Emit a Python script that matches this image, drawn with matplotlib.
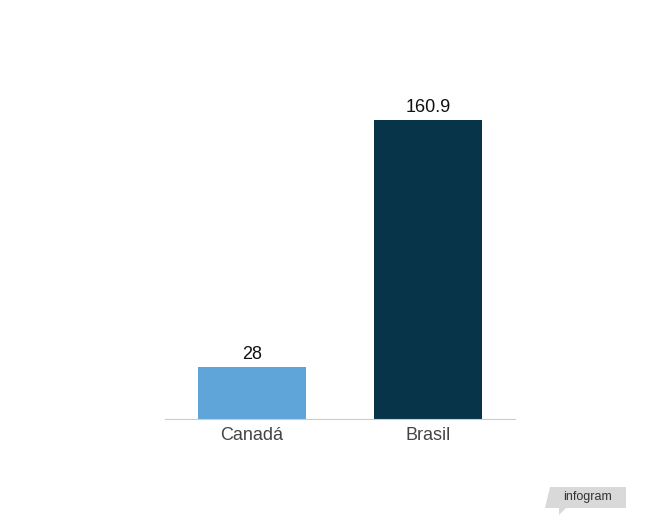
import matplotlib
matplotlib.use("Agg")
import matplotlib.pyplot as plt
from matplotlib.patches import Polygon

categories = ["Canadá", "Brasil"]
values = [28, 160.9]
labels = ["28", "160.9"]
colors = ["#5fa5d9", "#08344a"]

plt.rcParams['font.family'] = ['Liberation Sans', 'DejaVu Sans']
fig = plt.figure(figsize=(6.56, 5.31), dpi=100)
ax = fig.add_axes([165/656, (531-419)/531, 350/656, 319/531])
x = list(range(len(categories)))
ax.bar(x, values, width=108/176, color=colors)
for xi, v, l in zip(x, values, labels):
    ax.text(xi, v + 2, l, ha='center', va='bottom', fontsize=13, color='#111111')
ax.set_xlim(-87/176, 1 + 87/176)
ax.set_ylim(0, 160.9 * 319 / 299)
ax.set_xticks(x)
ax.set_xticklabels(categories, fontsize=13, color='#444444')
ax.tick_params(axis='x', length=0, pad=6)
ax.set_yticks([])
for s in ['top', 'right', 'left']:
    ax.spines[s].set_visible(False)
ax.spines['bottom'].set_color('#cccccc')

# infogram badge
def px(xp, yp):
    return (xp / 656, 1 - yp / 531)
poly = Polygon([px(550, 487), px(626, 487), px(626, 508), px(566, 508), px(559, 515), px(559, 508), px(545, 508)],
               closed=True, transform=fig.transFigure, facecolor='#d9d9d9', edgecolor='none')
fig.patches.append(poly)
fig.text(588/656, 1 - 497/531, "infogram", ha='center', va='center', fontsize=9, color='#333333')
fig.savefig("out.png", dpi=100)
